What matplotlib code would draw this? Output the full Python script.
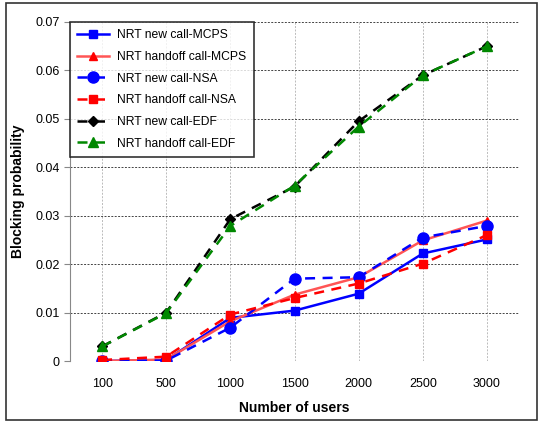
import matplotlib.pyplot as plt
from matplotlib.patches import Rectangle

users = ['100', '500', '1000', '1500', '2000', '2500', '3000']

mcps_new = [0.0, 0.0002, 0.0089, 0.0104, 0.0139, 0.0222, 0.0251]
mcps_handoff = [0.0, 0.0003, 0.0082, 0.0137, 0.0173, 0.0249, 0.0290]
nsa_new = [0.0, 0.0001, 0.0069, 0.0170, 0.0173, 0.0255, 0.0279]
nsa_handoff = [0.0002, 0.0009, 0.0096, 0.0130, 0.0160, 0.0201, 0.0260]
edf_new = [0.0030, 0.0100, 0.0293, 0.0360, 0.0495, 0.0590, 0.0650]
edf_handoff = [0.0030, 0.0099, 0.0279, 0.0362, 0.0484, 0.0590, 0.0650]

plt.rcParams['font.family'] = ['Liberation Sans', 'DejaVu Sans']

fig = plt.figure(figsize=(5.41, 4.23), dpi=100)
ax = fig.add_axes([70 / 541, 62 / 423, 449 / 541, 339 / 423])

x = list(range(len(users)))

ax.plot(x, mcps_new, color='#0000ff', ls='-', lw=1.8, marker='s', ms=6,
        label='NRT new call-MCPS')
ax.plot(x, mcps_handoff, color='#ff5555', ls='-', lw=1.8, marker='^', ms=6,
        mfc='red', mec='red', label='NRT handoff call-MCPS')
ax.plot(x, nsa_new, color='#0000ff', ls=(0, (4, 3)), lw=1.8, marker='o', ms=8,
        label='NRT new call-NSA')
ax.plot(x, nsa_handoff, color='#ff0000', ls=(0, (4, 3)), lw=1.8, marker='s', ms=6,
        label='NRT handoff call-NSA')
ax.plot(x, edf_new, color='black', ls=(0, (4, 3)), lw=1.8, marker='D', ms=5,
        label='NRT new call-EDF')
ax.plot(x, edf_handoff, color='#008800', ls=(0, (4, 3)), lw=1.8, marker='^', ms=7,
        label='NRT handoff call-EDF')

ax.set_xlim(-0.5, 6.5)
ax.set_ylim(0, 0.07)
ax.set_xticks(x)
ax.set_xticklabels(users)
ax.set_yticks([0, 0.01, 0.02, 0.03, 0.04, 0.05, 0.06, 0.07])
ax.set_yticklabels(['0', '0.01', '0.02', '0.03', '0.04', '0.05', '0.06', '0.07'])
ax.tick_params(axis='x', length=0, pad=12, labelsize=9)
ax.tick_params(axis='y', length=4, color='#888888', labelsize=9)

ax.yaxis.grid(True, color='#444444', ls=(0, (2, 1.5)), lw=0.7)
ax.xaxis.grid(True, color='#bbbbbb', ls=(0, (2, 1.5)), lw=0.7)
ax.set_axisbelow(True)
for s in ['top', 'right', 'bottom']:
    ax.spines[s].set_visible(False)
ax.spines['left'].set_color('#888888')

ax.set_xlabel('Number of users', fontweight='bold', fontsize=10, labelpad=8)
ax.set_ylabel('Blocking probability', fontweight='bold', fontsize=10, labelpad=7)

leg = ax.legend(loc='upper left', fontsize=8.7, frameon=True, fancybox=False,
                edgecolor='black', borderaxespad=0, handlelength=2.6,
                labelspacing=0.8, borderpad=0.6, handletextpad=0.7)
leg.get_frame().set_linewidth(1.2)

fig.patches.append(Rectangle((6 / 541, 3 / 423), 531 / 541, 417 / 423,
                             transform=fig.transFigure, fill=False,
                             edgecolor='#333333', lw=1.2))

plt.savefig('out.png', dpi=100)
